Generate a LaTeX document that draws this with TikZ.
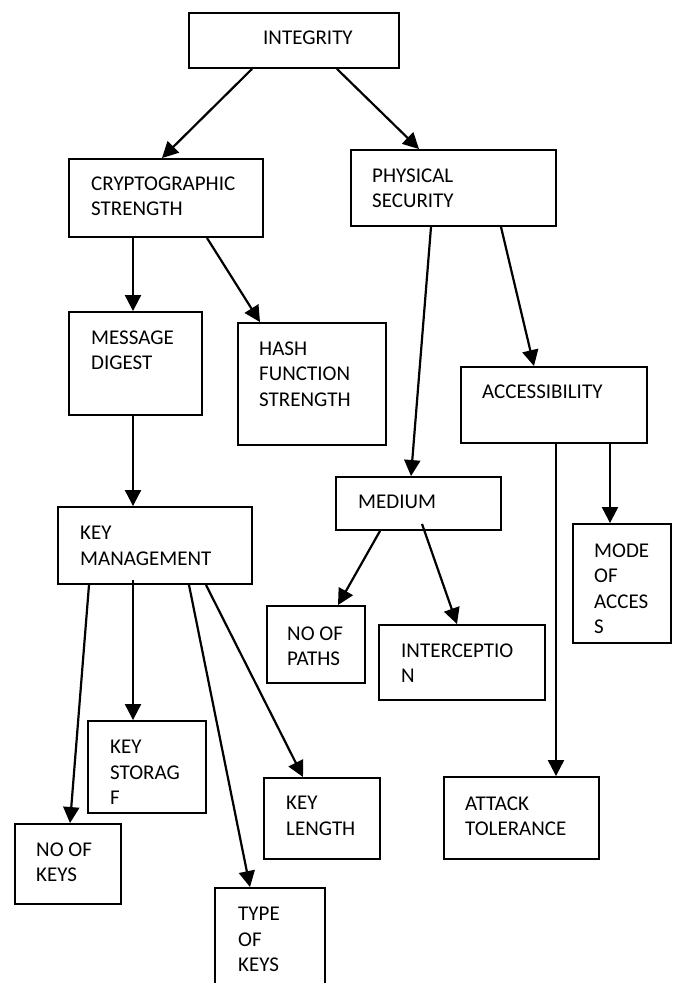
\documentclass[tikz,border=0pt]{standalone}
\usepackage{fontspec}
\setmainfont{Carlito}
\usetikzlibrary{arrows.meta,calc}
\begin{document}
\begin{tikzpicture}[x=1pt,y=-1pt,
  box/.style={draw, line width=1.9pt, inner sep=0pt},
  txt/.style={anchor=north west, inner sep=0pt, align=left, font=\fontsize{21}{25.5}\selectfont},
  conn/.style={line width=2.2pt, -{Triangle[length=16pt,width=16pt]}}]
\useasboundingbox (0,0) rectangle (676,983);
\fill[white] (0,0) rectangle (676,983);
% boxes
\node[box, minimum width=210pt, minimum height=55pt]  (int)    at (294,40.5)  {};
\node[box, minimum width=194pt, minimum height=78pt]  (cry)    at (166,198)   {};
\node[box, minimum width=205pt, minimum height=76pt]  (phy)    at (453.5,188) {};
\node[box, minimum width=133pt, minimum height=103pt] (msg)    at (135.5,363.5) {};
\node[box, minimum width=148pt, minimum height=122pt] (hash)   at (312,384)   {};
\node[box, minimum width=186pt, minimum height=76pt]  (acc)    at (554,405)   {};
\node[box, minimum width=165pt, minimum height=53pt]  (med)    at (418.5,503.5) {};
\node[box, minimum width=194pt, minimum height=77pt]  (key)    at (155,545.5) {};
\node[box, minimum width=98pt,  minimum height=119pt] (mode)   at (622,583.5) {};
\node[box, minimum width=98pt,  minimum height=77pt]  (paths)  at (316,644.5) {};
\node[box, minimum width=166pt, minimum height=75pt]  (inter)  at (462,662.5) {};
\node[box, minimum width=118pt, minimum height=92pt]  (stor)   at (147,767)   {};
\node[box, minimum width=116pt, minimum height=81pt]  (len)    at (322,818.5) {};
\node[box, minimum width=155pt, minimum height=82pt]  (att)    at (521.5,818) {};
\node[box, minimum width=106pt, minimum height=80pt]  (nokeys) at (68,864)    {};
\node[box, minimum width=110pt, minimum height=112pt] (type)   at (270,944)   {};
% texts
\node[txt] (int-t)    at (263,30.2)  {INTEGRITY};
\node[txt] (cry-t)    at (91,176.2)  {CRYPTOGRAPHIC\\STRENGTH};
\node[txt] (phy-t)    at (372,168.2) {PHYSICAL\\SECURITY};
\node[txt] (msg-t)    at (91,330.2)  {MESSAGE\\DIGEST};
\node[txt] (hash-t)   at (259,341.2) {HASH\\FUNCTION\\STRENGTH};
\node[txt] (acc-t)    at (482,384.2) {ACCESSIBILITY};
\node[txt] (med-t)    at (358,495.2) {MEDIUM};
\node[txt] (key-t)    at (80,526.2)  {KEY\\MANAGEMENT};
\node[txt] (mode-t)   at (594,543.2) {MODE\\OF\\ACCES\\S};
\node[txt] (paths-t)  at (287,626.2) {NO OF\\PATHS};
\node[txt] (inter-t)  at (401,643.2) {INTERCEPTIO\\N};
\node[txt] (stor-t)   at (110,740.2) {KEY\\STORAG\\F};
\node[txt] (len-t)    at (286,796.2) {KEY\\LENGTH};
\node[txt] (att-t)    at (465,796.2) {ATTACK\\TOLERANCE};
\node[txt] (nokeys-t) at (36,842.2)  {NO OF\\KEYS};
\node[txt] (type-t)   at (238,907.2) {TYPE\\OF\\KEYS};
% connectors
\draw[conn] (252,0 |- int.south) -- (162,0 |- cry.north);
\draw[conn] (337,0 |- int.south) -- (419,0 |- phy.north);
\draw[conn] (133,0 |- cry.south) -- (133,0 |- msg.north);
\draw[conn] (207,0 |- cry.south) -- (260,0 |- hash.north);
\draw[conn] (431,0 |- phy.south) -- (411,0 |- med.north);
\draw[conn] (501,0 |- phy.south) -- (534,0 |- acc.north);
\draw[conn] (133,0 |- msg.south) -- (133,0 |- key.north);
\draw[conn] (556,0 |- acc.south) -- (556,0 |- att.north);
\draw[conn] (610,0 |- acc.south) -- (610,0 |- mode.north);
\draw[conn] (380,0 |- med.south) -- (338,0 |- paths.north);
\draw[conn] ($(422,0 |- med.south)+(0,-7)$) -- (457,0 |- inter.north);
\draw[conn] (89,0 |- key.south) -- (70,0 |- nokeys.north);
\draw[conn] ($(133,0 |- key.south)+(0,-5)$) -- (133,0 |- stor.north);
\draw[conn] (189,0 |- key.south) -- (250,0 |- type.north);
\draw[conn] (206,0 |- key.south) -- (303,0 |- len.north);
\end{tikzpicture}
\end{document}
